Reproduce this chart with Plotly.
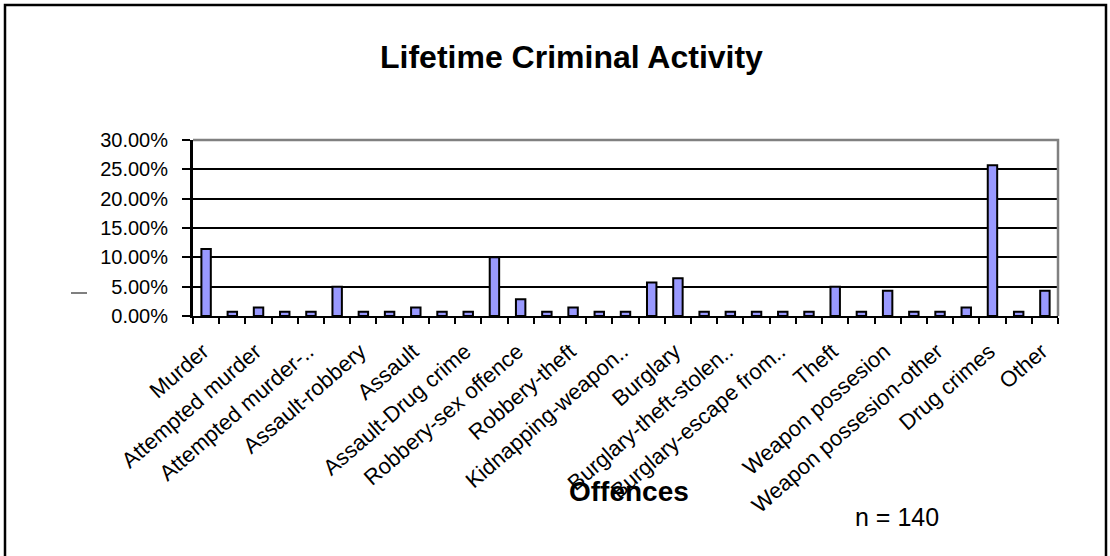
import plotly.graph_objects as go

# ---- data ----
title_text = "Lifetime Criminal Activity"
labels = ["Murder", "Attempted murder", "Attempted murder-..", "Assault-robbery",
          "Assault", "Assault-Drug crime", "Robbery-sex offence", "Robbery-theft",
          "Kidnapping-weapon..", "Burglary", "Burglary-theft-stolen..",
          "Burglary-escape from..", "Theft", "Weapon possesion",
          "Weapon possesion-other", "Drug crimes", "Other"]
label_positions = [0, 2, 4, 6, 8, 10, 12, 14, 16, 18, 20, 22, 24, 26, 28, 30, 32]
positions = list(range(33))
percent = [11.43, 0.71, 1.43, 0.71, 0.71, 5.00, 0.71, 0.71, 1.43, 0.71, 0.71,
           10.00, 2.86, 0.71, 1.43, 0.71, 0.71, 5.71, 6.43, 0.71, 0.71, 0.71,
           0.71, 0.71, 5.00, 0.71, 4.29, 0.71, 0.71, 1.43, 25.71, 0.71, 4.29]
y_ticks = [0, 5, 10, 15, 20, 25, 30]
y_tick_text = ["0.00%", "5.00%", "10.00%", "15.00%", "20.00%", "25.00%", "30.00%"]
boundaries = [p - 0.5 for p in positions] + [positions[-1] + 0.5]

W, H = 1110, 556
L, R, T, B = 193, 1058, 140, 316
FONT = "Arial, Liberation Sans, sans-serif"

def px(xp):
    return (xp - L) / (R - L)

def py(yp):
    return (B - yp) / (B - T)

fig = go.Figure()
fig.add_trace(go.Bar(
    x=positions, y=percent, width=0.36,
    marker=dict(color="#9999FF", line=dict(color="black", width=2)),
    showlegend=False, hoverinfo="y"))

fig.update_layout(
    width=W, height=H,
    margin=dict(l=L, r=W - R, t=T, b=H - B, pad=0, autoexpand=False),
    paper_bgcolor="white", plot_bgcolor="white",
    font=dict(family=FONT, color="black"),
    xaxis=dict(range=[-0.5, 32.5], tickmode="array", tickvals=label_positions,
               ticktext=labels, tickangle=-41, ticks="", automargin=False,
               ticklabelstandoff=12, ticklabelshift=-3,
               tickfont=dict(size=22, family=FONT, color="black"),
               showgrid=False, zeroline=False, showline=True,
               linecolor="black", linewidth=2,
               minor=dict(tickvals=boundaries, ticks="outside", ticklen=6,
                          tickwidth=2, tickcolor="black", showgrid=False)),
    yaxis=dict(range=[0, 30], tickmode="array", tickvals=y_ticks,
               ticktext=y_tick_text, automargin=False,
               tickfont=dict(size=20, family=FONT, color="black"),
               ticks="outside", ticklen=8, tickwidth=2, tickcolor="black",
               ticklabelstandoff=10,
               showgrid=True, gridcolor="black", gridwidth=2,
               zeroline=False, showline=True, linecolor="black", linewidth=3),
    bargap=0.6,
)

shapes = [
    # gray plot-area border top & right
    dict(type="path", xref="paper", yref="paper",
         path="M 0 1 L 1 1 L 1 0", line=dict(color="#808080", width=2.5),
         layer="above"),
    # outer chart border (left, top, right)
    dict(type="path", xref="paper", yref="paper",
         path=f"M {px(5)} {py(580)} L {px(5)} {py(5)} L {px(1106)} {py(5)} L {px(1106)} {py(580)}",
         line=dict(color="black", width=2.5)),
    # small stray dash at left
    dict(type="line", xref="paper", yref="paper",
         x0=px(71), x1=px(87), y0=py(293), y1=py(293),
         line=dict(color="black", width=1)),
]
fig.update_layout(shapes=shapes)

fig.add_annotation(text="<b>" + title_text + "</b>", xref="paper", yref="paper",
                   x=px(571), y=py(57), showarrow=False,
                   font=dict(size=32, family=FONT, color="black"),
                   xanchor="center", yanchor="middle")
fig.add_annotation(text="<b>Offences</b>", xref="paper", yref="paper",
                   x=px(629), y=py(491), showarrow=False,
                   font=dict(size=28, family=FONT, color="black"),
                   xanchor="center", yanchor="middle")
fig.add_annotation(text="n = 140", xref="paper", yref="paper",
                   x=px(897), y=py(517), showarrow=False,
                   font=dict(size=25, family=FONT, color="black"),
                   xanchor="center", yanchor="middle")

fig.write_html("out.html", config={"displayModeBar": False},
               post_script="document.body.style.margin='0';document.body.style.padding='0';")
